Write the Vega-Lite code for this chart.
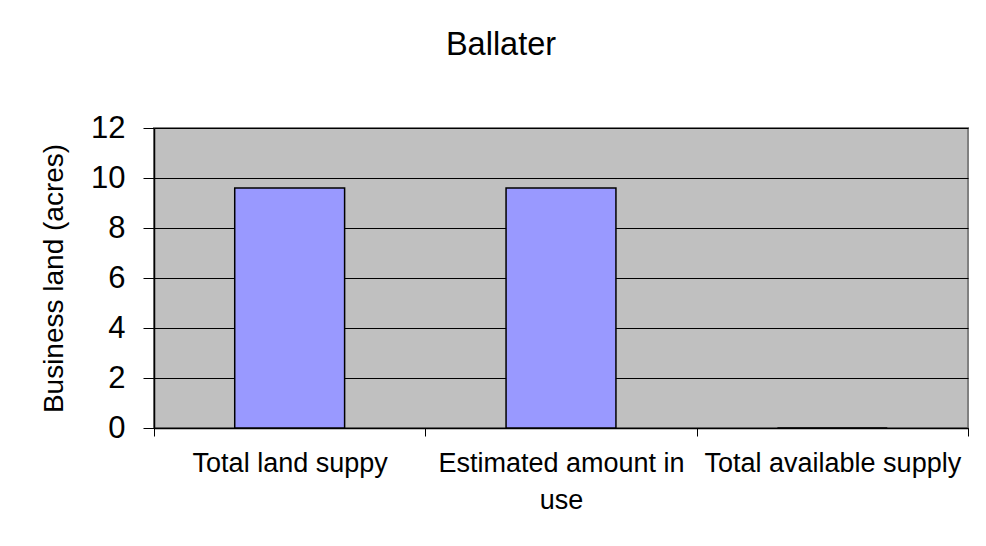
{
  "$schema": "https://vega.github.io/schema/vega-lite/v6.json",
  "width": 814,
  "height": 300,
  "autosize": "none",
  "padding": {"left": 154, "top": 128, "right": 18, "bottom": 118},
  "background": "white",
  "config": {
    "font": "Liberation Sans",
    "view": {"fill": "#C0C0C0", "stroke": "#808080", "strokeWidth": 2}
  },
  "title": {
    "text": "Ballater",
    "fontSize": 32.5,
    "font": "Liberation Sans",
    "fontWeight": "normal",
    "color": "#000000",
    "anchor": "middle",
    "frame": "group",
    "baseline": "alphabetic",
    "offset": 25,
    "dx": -60
  },
  "data": {
    "values": [
      {"category": "Total land suppy", "acres": 9.6},
      {"category": "Estimated amount in use", "acres": 9.6},
      {"category": "Total available supply", "acres": 0}
    ]
  },
  "mark": {"type": "bar", "fill": "#9999FF", "stroke": "#000000", "strokeWidth": 1.5, "width": {"band": 0.405}},
  "encoding": {
    "x": {
      "field": "category",
      "type": "nominal",
      "sort": null,
      "scale": {"paddingInner": 0, "paddingOuter": 0},
      "axis": {
        "title": null,
        "labelAngle": 0,
        "labelFontSize": 27,
        "labelColor": "#000000",
        "labelPadding": 14,
        "labelLineHeight": 37,
        "labelLimit": 400,
        "labelExpr": "datum.label == 'Estimated amount in use' ? ['Estimated amount in', 'use'] : datum.label",
        "tickBand": "extent",
        "tickSize": 8,
        "tickColor": "#000000",
        "domainColor": "#000000",
        "domainWidth": 1.5,
        "grid": false
      }
    },
    "y": {
      "field": "acres",
      "type": "quantitative",
      "scale": {"domain": [0, 12], "nice": false},
      "axis": {
        "title": "Business land (acres)",
        "titleFontSize": 28,
        "titleFontWeight": "normal",
        "titleColor": "#000000",
        "titlePadding": 22,
        "values": [0, 2, 4, 6, 8, 10, 12],
        "labelFontSize": 31,
        "labelColor": "#000000",
        "labelPadding": 18,
        "tickSize": 11,
        "tickColor": "#000000",
        "domainColor": "#000000",
        "domainWidth": 1.5,
        "gridColor": "#000000",
        "gridWidth": 1,
        "gridOpacity": 1
      }
    }
  }
}
